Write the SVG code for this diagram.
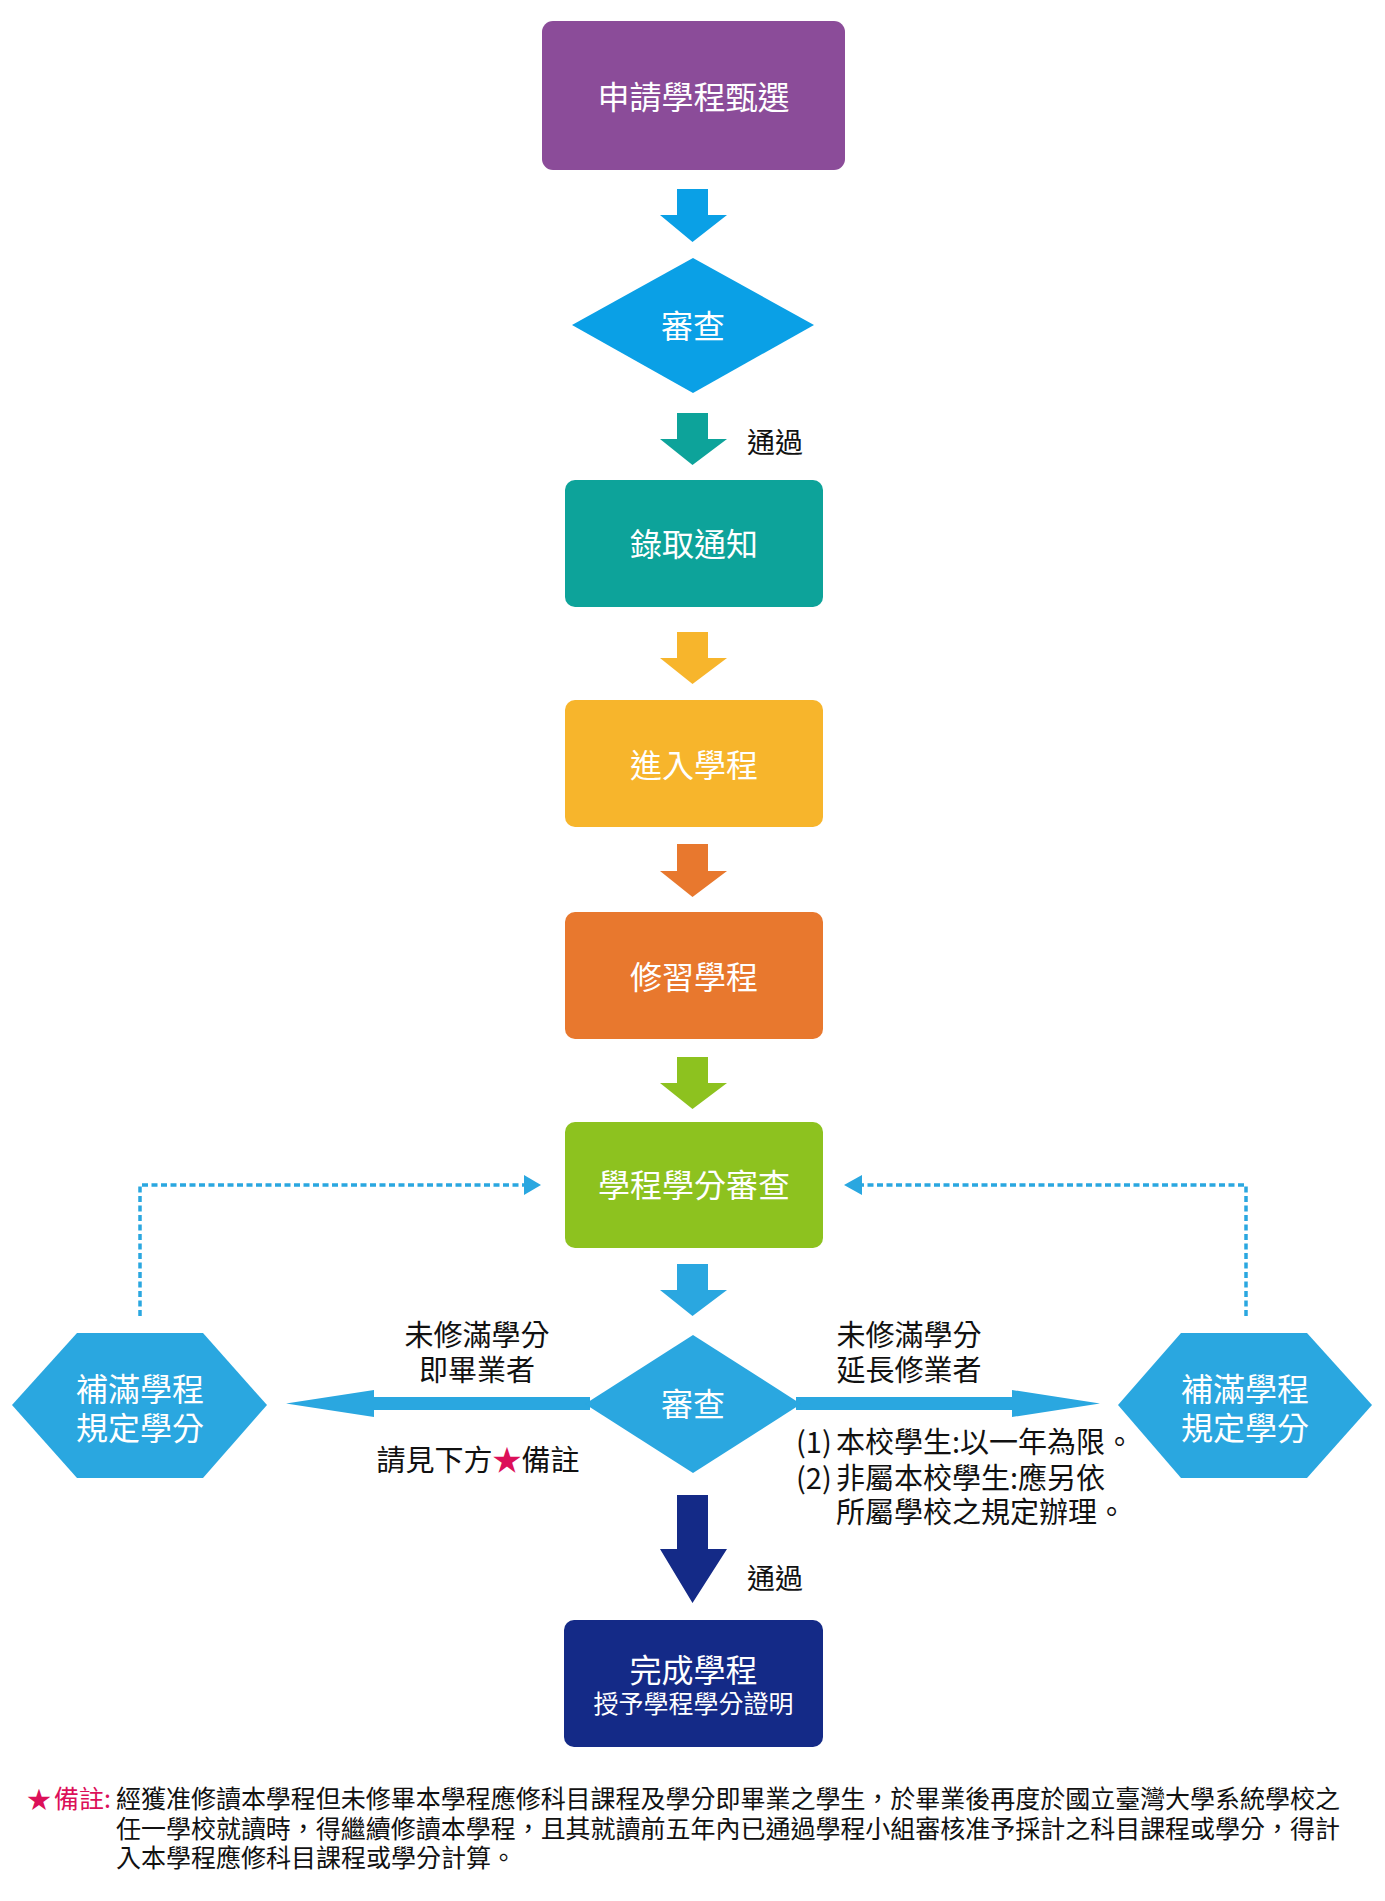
<svg xmlns="http://www.w3.org/2000/svg" width="1385" height="1901" viewBox="0 0 1385 1901">
<style>
text{font-family:"Noto Sans CJK TC","Noto Sans CJK SC",sans-serif;}
.w{fill:#fff;font-size:32px;text-anchor:middle;}
.k{fill:#111;font-size:29px;}
.c{text-anchor:middle;}
.n{fill:#111;font-size:25px;}
.red{fill:#DC1059;}
.dash{fill:none;stroke:#2AA7E0;stroke-width:3.5;stroke-dasharray:6 3.5;}
.lb{fill:#2AA7E0;}
</style>
<rect width="1385" height="1901" fill="#fff"/>
<g id="connectors">
  <polygon points="677,189 708,189 708,215 727,215 692.5,242 660,215 677,215" fill="#0AA0E6"/>
  <polygon points="677,413 708,413 708,439 727,439 692.5,465 660,439 677,439" fill="#0DA39A"/>
  <polygon points="677,632 708,632 708,658 727,658 692.5,684 660,658 677,658" fill="#F7B52C"/>
  <polygon points="677,844 708,844 708,871 727,871 692.5,897 660,871 677,871" fill="#E8782E"/>
  <polygon points="677,1057 708,1057 708,1083 727,1083 692.5,1109 660,1083 677,1083" fill="#8DC21F"/>
  <polygon points="677,1264 708,1264 708,1290 727,1290 692.5,1316 660,1290 677,1290" class="lb"/>
  <polygon points="677,1495 708,1495 708,1549 727,1549 692.5,1603 660,1549 677,1549" fill="#142A87"/>
  <polygon points="590,1397 374,1397 374,1390 286,1403.5 374,1417 374,1410 590,1410" class="lb"/>
  <polygon points="796,1397 1012,1397 1012,1390 1100,1403.5 1012,1417 1012,1410 796,1410" class="lb"/>
  <path class="dash" d="M140 1316 V1185 H524"/>
  <polygon points="524,1175 541,1185 524,1195" class="lb"/>
  <path class="dash" d="M1246 1316 V1185 H862"/>
  <polygon points="862,1175 844,1185 862,1195" class="lb"/>
  <text class="k" x="747" y="453" style="font-size:28px">通過</text>
  <text class="k" x="747" y="1589" style="font-size:28px">通過</text>
  <text class="k c" x="477" y="1346">未修滿學分</text>
  <text class="k c" x="477" y="1381">即畢業者</text>
  <text class="k c" x="478" y="1471">請見下方<tspan class="red">★</tspan>備註</text>
  <text class="k c" x="909" y="1346">未修滿學分</text>
  <text class="k c" x="909" y="1381">延長修業者</text>
  <text class="k" x="796" y="1453">(1)<tspan x="836">本校學生:以一年為限。</tspan></text>
  <text class="k" x="796" y="1489">(2)<tspan x="836">非屬本校學生:應另依</tspan></text>
  <text class="k" x="836" y="1523">所屬學校之規定辦理。</text>
</g>
<g id="n1">
  <rect x="542" y="21" width="303" height="149" rx="11" fill="#8B4C99"/>
  <text class="w" x="693.5" y="109">申請學程甄選</text>
</g>
<g id="n2">
  <polygon points="572,325 693,258 814,325 693,393" fill="#0AA0E6"/>
  <text class="w" x="693" y="338">審查</text>
</g>
<g id="n3">
  <rect x="565" y="480" width="258" height="127" rx="10" fill="#0DA39A"/>
  <text class="w" x="694" y="556">錄取通知</text>
</g>
<g id="n4">
  <rect x="565" y="700" width="258" height="127" rx="10" fill="#F7B52C"/>
  <text class="w" x="694" y="777">進入學程</text>
</g>
<g id="n5">
  <rect x="565" y="912" width="258" height="127" rx="10" fill="#E8782E"/>
  <text class="w" x="694" y="989">修習學程</text>
</g>
<g id="n6">
  <rect x="565" y="1122" width="258" height="126" rx="10" fill="#8DC21F"/>
  <text class="w" x="694" y="1197">學程學分審查</text>
</g>
<g id="n7">
  <polygon points="585,1404 693,1335 801,1404 693,1473" class="lb"/>
  <text class="w" x="693" y="1416">審查</text>
</g>
<g id="n8">
  <polygon points="12,1405 77,1333 203,1333 267,1405 203,1478 77,1478" class="lb"/>
  <text class="w" x="140" y="1401">補滿學程</text>
  <text class="w" x="140" y="1440">規定學分</text>
</g>
<g id="n9">
  <polygon points="1118,1405 1181,1333 1307,1333 1372,1405 1307,1478 1181,1478" class="lb"/>
  <text class="w" x="1245" y="1401">補滿學程</text>
  <text class="w" x="1245" y="1440">規定學分</text>
</g>
<g id="n10">
  <rect x="564" y="1620" width="259" height="127" rx="10" fill="#142A87"/>
  <text class="w" x="693.5" y="1682">完成學程</text>
  <text class="w" x="693.5" y="1713" style="font-size:25px">授予學程學分證明</text>
</g>
<g id="note">
  <text class="red" x="27" y="1808" style="font-size:24px">★</text>
  <text class="red" x="54" y="1808" style="font-size:25px">備註:</text>
  <text class="n" x="116" y="1808" textLength="1224" lengthAdjust="spacing">經獲准修讀本學程但未修畢本學程應修科目課程及學分即畢業之學生，於畢業後再度於國立臺灣大學系統學校之</text>
  <text class="n" x="116" y="1838" textLength="1224" lengthAdjust="spacing">任一學校就讀時，得繼續修讀本學程，且其就讀前五年內已通過學程小組審核准予採計之科目課程或學分，得計</text>
  <text class="n" x="116" y="1867">入本學程應修科目課程或學分計算。</text>
</g>
</svg>
